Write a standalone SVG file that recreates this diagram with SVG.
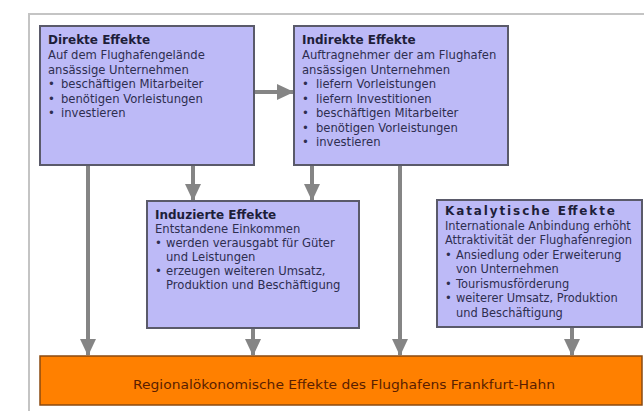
<svg xmlns="http://www.w3.org/2000/svg" width="644" height="411" viewBox="0 0 644 411">
<style>
.box{fill:#bdbaf7;stroke:#5a5a6a;stroke-width:2}
.out{fill:#ff8000;stroke:#8a4a10;stroke-width:1.5}
.frame{fill:none;stroke:#c4c4c4;stroke-width:2}
.t{font-family:"DejaVu Sans",Verdana,sans-serif;font-size:12px;font-weight:bold;fill:#1e1e3a}
.b{font-family:"DejaVu Sans",Verdana,sans-serif;font-size:11.6px;fill:#2e2e50}
.k{font-family:"DejaVu Sans",Verdana,sans-serif;font-size:11.4px;fill:#2e2e50}
.o{font-family:"DejaVu Sans",Verdana,sans-serif;font-size:13px;fill:#5a1e00}
.c{stroke:#858585;stroke-width:4;fill:none}
</style>
<defs>
<marker id="ah" markerUnits="userSpaceOnUse" markerWidth="18" markerHeight="18" viewBox="0 0 18 18" refX="16" refY="9" orient="auto">
<path d="M0,1 L17,9 L0,17 Z" fill="#858585"/>
</marker>
</defs>
<rect width="644" height="411" fill="#ffffff"/>
<path class="frame" d="M29,420 L29,14 L650,14"/>
<g id="connectors">
<line class="c" x1="254" y1="92" x2="293" y2="92" marker-end="url(#ah)"/>
<line class="c" x1="88" y1="166" x2="88" y2="355" marker-end="url(#ah)"/>
<line class="c" x1="193" y1="166" x2="193" y2="200" marker-end="url(#ah)"/>
<line class="c" x1="312" y1="166" x2="312" y2="200" marker-end="url(#ah)"/>
<line class="c" x1="400" y1="166" x2="400" y2="355" marker-end="url(#ah)"/>
<line class="c" x1="253" y1="329" x2="253" y2="355" marker-end="url(#ah)"/>
<line class="c" x1="572" y1="328" x2="572" y2="355" marker-end="url(#ah)"/>
</g>
<g id="direkte">
<rect class="box" x="40" y="26" width="214" height="139"/>
<text class="t" x="48" y="44">Direkte Effekte</text>
<text class="b" x="48" y="59">Auf dem Flughafengelände</text>
<text class="b" x="48" y="73.5">ansässige Unternehmen</text>
<text class="b" x="48" y="88">•<tspan x="61">beschäftigen Mitarbeiter</tspan></text>
<text class="b" x="48" y="102.5">•<tspan x="61">benötigen Vorleistungen</tspan></text>
<text class="b" x="48" y="117">•<tspan x="61">investieren</tspan></text>
</g>
<g id="indirekte">
<rect class="box" x="294" y="26" width="214" height="139"/>
<text class="t" x="302" y="44">Indirekte Effekte</text>
<text class="b" x="302" y="59">Auftragnehmer der am Flughafen</text>
<text class="b" x="302" y="73.5">ansässigen Unternehmen</text>
<text class="b" x="302" y="88">•<tspan x="316">liefern Vorleistungen</tspan></text>
<text class="b" x="302" y="102.5">•<tspan x="316">liefern Investitionen</tspan></text>
<text class="b" x="302" y="117">•<tspan x="316">beschäftigen Mitarbeiter</tspan></text>
<text class="b" x="302" y="131.5">•<tspan x="316">benötigen Vorleistungen</tspan></text>
<text class="b" x="302" y="146">•<tspan x="316">investieren</tspan></text>
</g>
<g id="induzierte">
<rect class="box" x="147" y="201" width="212" height="127"/>
<text class="t" x="155" y="219">Induzierte Effekte</text>
<text class="b" x="155" y="233">Entstandene Einkommen</text>
<text class="b" x="155" y="247">•<tspan x="166">werden verausgabt für Güter</tspan></text>
<text class="b" x="166" y="261">und Leistungen</text>
<text class="b" x="155" y="275">•<tspan x="166">erzeugen weiteren Umsatz,</tspan></text>
<text class="b" x="166" y="289">Produktion und Beschäftigung</text>
</g>
<g id="katalytische">
<rect class="box" x="437" y="200" width="205" height="127"/>
<text class="t" x="445" y="215" textLength="170" lengthAdjust="spacing">Katalytische Effekte</text>
<text class="k" x="445" y="229.5">Internationale Anbindung erhöht</text>
<text class="k" x="445" y="244">Attraktivität der Flughafenregion</text>
<text class="k" x="445" y="258.5">•<tspan x="456">Ansiedlung oder Erweiterung</tspan></text>
<text class="k" x="456" y="273">von Unternehmen</text>
<text class="k" x="445" y="287.5">•<tspan x="456">Tourismusförderung</tspan></text>
<text class="k" x="445" y="302">•<tspan x="456">weiterer Umsatz, Produktion</tspan></text>
<text class="k" x="456" y="316.5">und Beschäftigung</text>
</g>
<g id="regional">
<rect class="out" x="40" y="356" width="602" height="49"/>
<text class="o" x="344" y="389" text-anchor="middle" textLength="422" lengthAdjust="spacingAndGlyphs">Regionalökonomische Effekte des Flughafens Frankfurt-Hahn</text>
</g>
</svg>
